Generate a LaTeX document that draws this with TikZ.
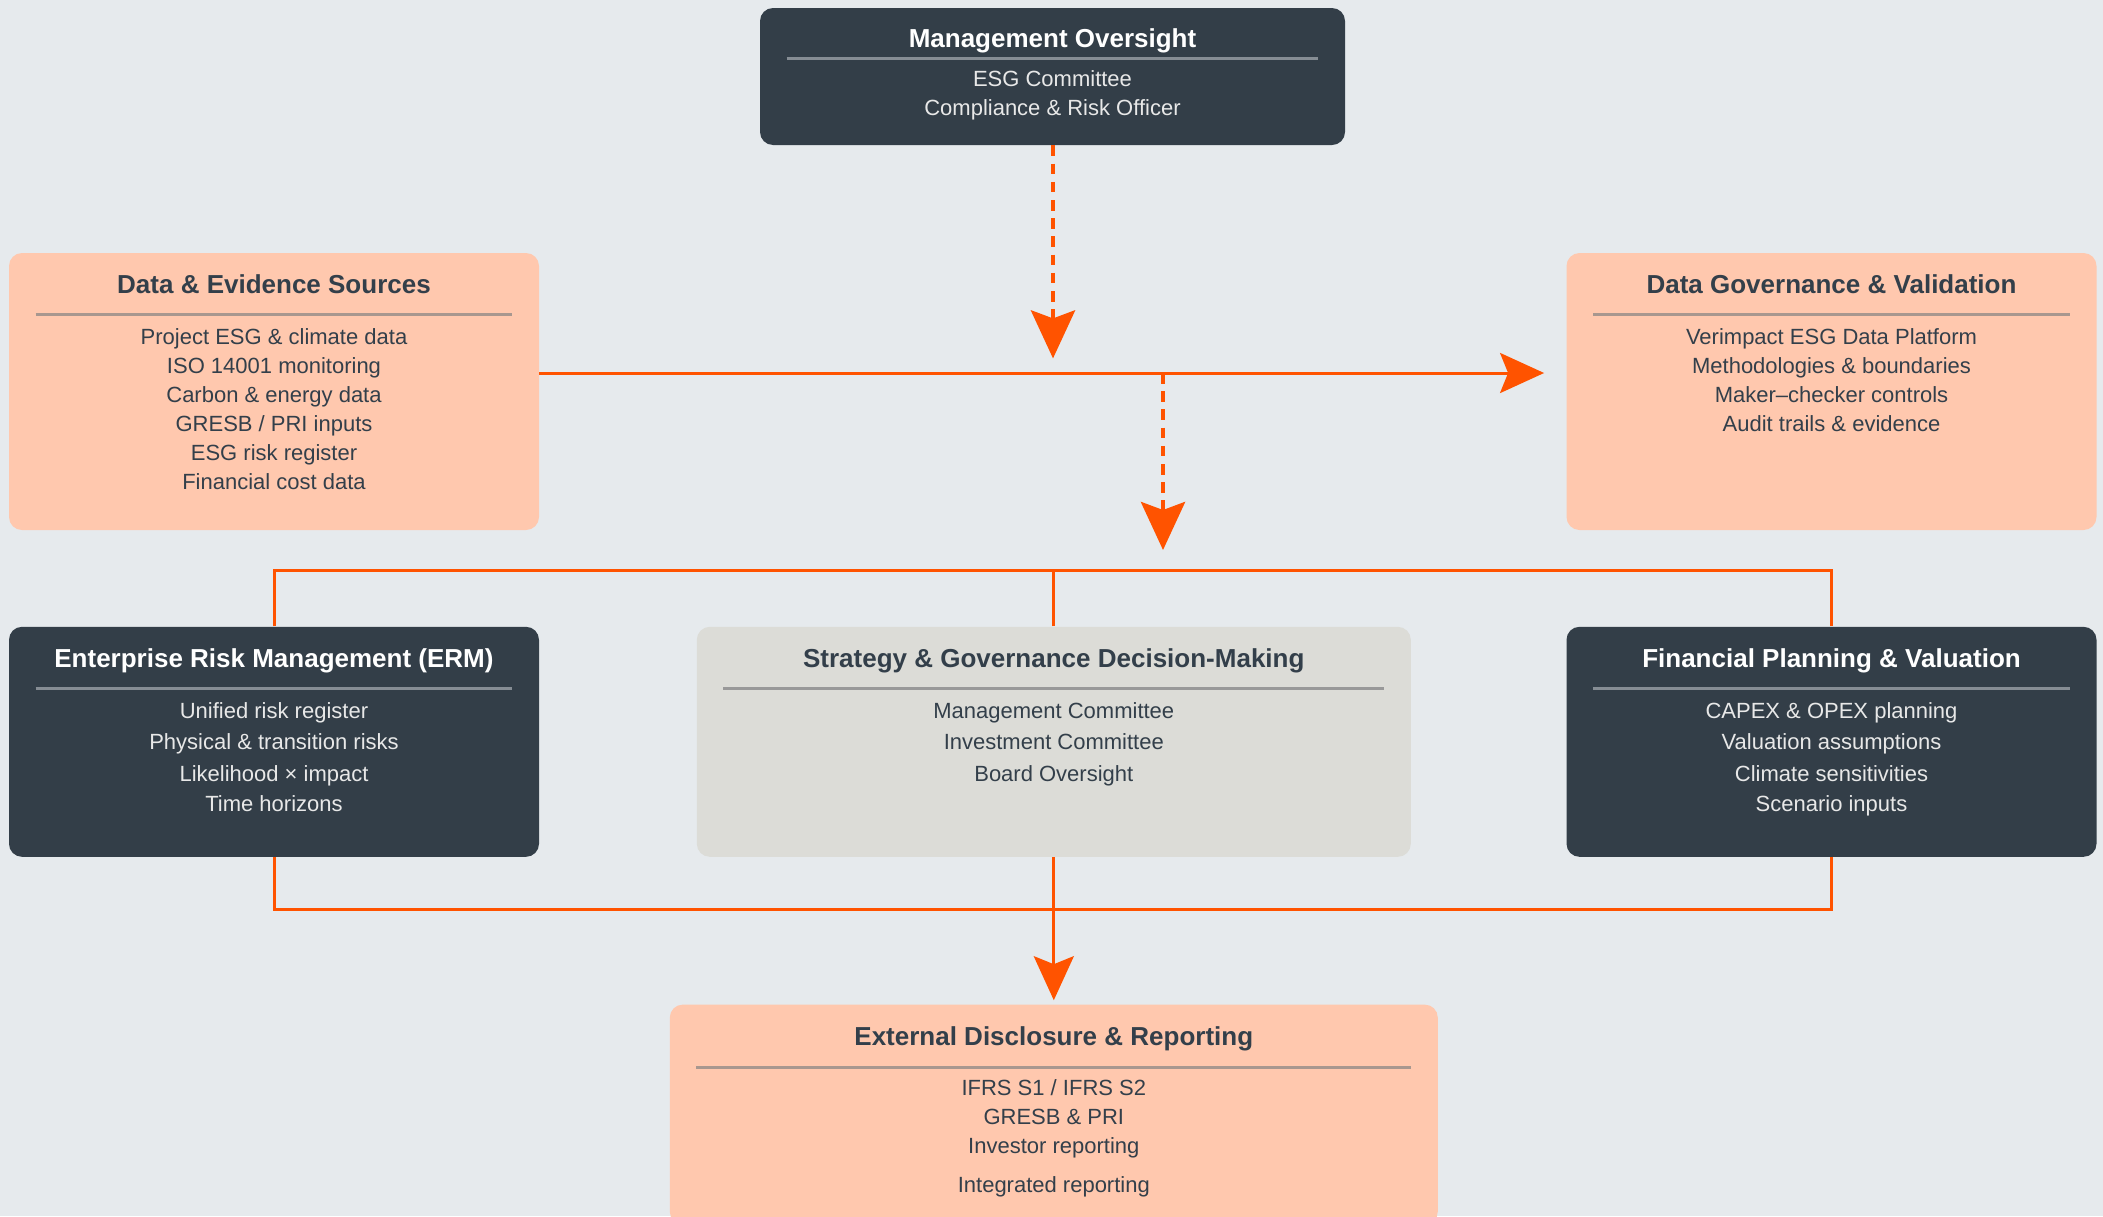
\documentclass[tikz,border=0pt]{standalone}
\usepackage{fontspec}
\setmainfont{Liberation Sans}
\usetikzlibrary{positioning,calc,arrows.meta}

\definecolor{bgcol}{HTML}{E6EAED}
\definecolor{boxdark}{HTML}{333E48}
\definecolor{boxpeach}{HTML}{FFC8AE}
\definecolor{boxstone}{HTML}{DCDCD7}
\definecolor{flow}{HTML}{FF5300}
\definecolor{ink}{HTML}{333F4A}
\definecolor{inklight}{HTML}{E8E8E8}
\definecolor{rulepeach}{HTML}{A8978F}
\definecolor{ruledark}{HTML}{868D94}
\definecolor{rulestone}{HTML}{999999}

\begin{document}
\begin{tikzpicture}[
    x=0.5pt, y=-0.5pt,
    box/.style = {rectangle, rounded corners=6.5pt, inner sep=0pt, minimum width=265pt, minimum height=115pt},
    darkbox/.style = {box, fill=boxdark},
    peachbox/.style = {box, fill=boxpeach},
    stonebox/.style = {box, fill=boxstone},
    title/.style = {anchor=base, font=\bfseries\fontsize{13}{16}\selectfont, text=ink},
    titlelight/.style = {title, text=white},
    body/.style = {anchor=base, align=center, font=\fontsize{11}{14.5}\selectfont, text=ink},
    bodylight/.style = {body, text=inklight},
    rule/.style = {line width=1.3pt},
    flowline/.style = {draw=flow, line width=1.5pt},
    flowarrow/.style = {flowline, -{Stealth[length=22pt, width=20pt, inset=4pt]}},
    dashflow/.style = {draw=flow, line width=2.3pt, dash pattern=on 5.3pt off 3.8pt, -{Stealth[length=24pt, width=22pt, inset=4pt]}}
    ]
    \fill[bgcol] (0,0) rectangle (2103,1216);
    \useasboundingbox (0,0) rectangle (2103,1216);

    % boxes
    \node[darkbox, minimum width=292.5pt, minimum height=68.5pt] (mgmt) at (1052.5,76.5) {};
    \node[peachbox, minimum height=138.5pt] (src) at (274,391.5) {};
    \node[peachbox, minimum height=138.5pt] (gov) at (1831.5,391.5) {};
    \node[darkbox, below=48pt of src] (erm) {};
    \node[darkbox, below=48pt of gov] (fin) {};
    \node[stonebox, minimum width=357pt, right=78.5pt of erm] (strat) {};
    \node[peachbox, minimum width=384pt, minimum height=110pt, below=73.5pt of strat] (ext) {};

    % titles and rules (body nodes sit on the baseline of their last line)
    \node[titlelight] (mgmt-title) at ($(mgmt.north)+(0,40)$) {Management Oversight};
    \draw[rule, ruledark] ($(mgmt.north west)+(27,51)$) -- ($(mgmt.north east)+(-27,51)$);
    \node[bodylight] (mgmt-body) at ($(mgmt.north)+(0,108)$) {ESG Committee\\Compliance \& Risk Officer};

    \node[title] (src-title) at ($(src.north)+(0,41)$) {Data \& Evidence Sources};
    \draw[rule, rulepeach] ($(src.north west)+(27,62)$) -- ($(src.north east)+(-27,62)$);
    \node[body] (src-body) at ($(src.north)+(0,237)$) {Project ESG \& climate data\\ISO 14001 monitoring\\Carbon \& energy data\\GRESB / PRI inputs\\ESG risk register\\Financial cost data};

    \node[title] (gov-title) at ($(gov.north)+(0,41)$) {Data Governance \& Validation};
    \draw[rule, rulepeach] ($(gov.north west)+(27,62)$) -- ($(gov.north east)+(-27,62)$);
    \node[body] (gov-body) at ($(gov.north)+(0,179)$) {Verimpact ESG Data Platform\\Methodologies \& boundaries\\Maker–checker controls\\Audit trails \& evidence};

    \node[titlelight] (erm-title) at ($(erm.north)+(0,41)$) {Enterprise Risk Management (ERM)};
    \draw[rule, ruledark] ($(erm.north west)+(27,62)$) -- ($(erm.north east)+(-27,62)$);
    \node[bodylight] (erm-body) at ($(erm.north)+(0,185)$) {Unified risk register\\[1pt]Physical \& transition risks\\[1.5pt]Likelihood × impact\\[0.5pt]Time horizons};

    \node[title] (strat-title) at ($(strat.north)+(0,41)$) {Strategy \& Governance Decision-Making};
    \draw[rule, rulestone] ($(strat.north west)+(27,62)$) -- ($(strat.north east)+(-27,62)$);
    \node[body] (strat-body) at ($(strat.north)+(0,155)$) {Management Committee\\[1pt]Investment Committee\\[1.5pt]Board Oversight};

    \node[titlelight] (fin-title) at ($(fin.north)+(0,41)$) {Financial Planning \& Valuation};
    \draw[rule, ruledark] ($(fin.north west)+(27,62)$) -- ($(fin.north east)+(-27,62)$);
    \node[bodylight] (fin-body) at ($(fin.north)+(0,185)$) {CAPEX \& OPEX planning\\[1pt]Valuation assumptions\\[1.5pt]Climate sensitivities\\[0.5pt]Scenario inputs};

    \node[title] (ext-title) at ($(ext.north)+(0,41)$) {External Disclosure \& Reporting};
    \draw[rule, rulepeach] ($(ext.north west)+(27,63)$) -- ($(ext.north east)+(-27,63)$);
    \node[body] (ext-body) at ($(ext.north)+(0,188)$) {IFRS S1 / IFRS S2\\GRESB \& PRI\\Investor reporting\\[5pt]Integrated reporting};

    % connectors
    \coordinate (mgmt-tip) at ($(mgmt.south)+(0.5,213)$);
    \coordinate (src-out) at (src.east |- 0,373);
    \coordinate (split) at (1163,373);
    \coordinate (split-tip) at (1163,550);
    \coordinate (bus-top) at (0,570);
    \coordinate (bus-low) at (0,909);

    \draw[dashflow] ($(mgmt.south)+(0.5,0)$) -- (mgmt-tip);
    \draw[flowarrow, shorten >=11pt] (src-out) -- (src-out -| gov.west);
    \draw[dashflow] (split) -- (split-tip);
    \draw[flowline] (erm.north) -- (erm.north |- bus-top) -- (fin.north |- bus-top) -- (fin.north);
    \draw[flowline] (strat.north) -- (strat.north |- bus-top);
    \draw[flowline] (erm.south) -- (erm.south |- bus-low) -- (fin.south |- bus-low) -- (fin.south);
    \draw[flowarrow, shorten >=2pt] (strat.south) -- (ext.north);
  \end{tikzpicture}
\end{document}
